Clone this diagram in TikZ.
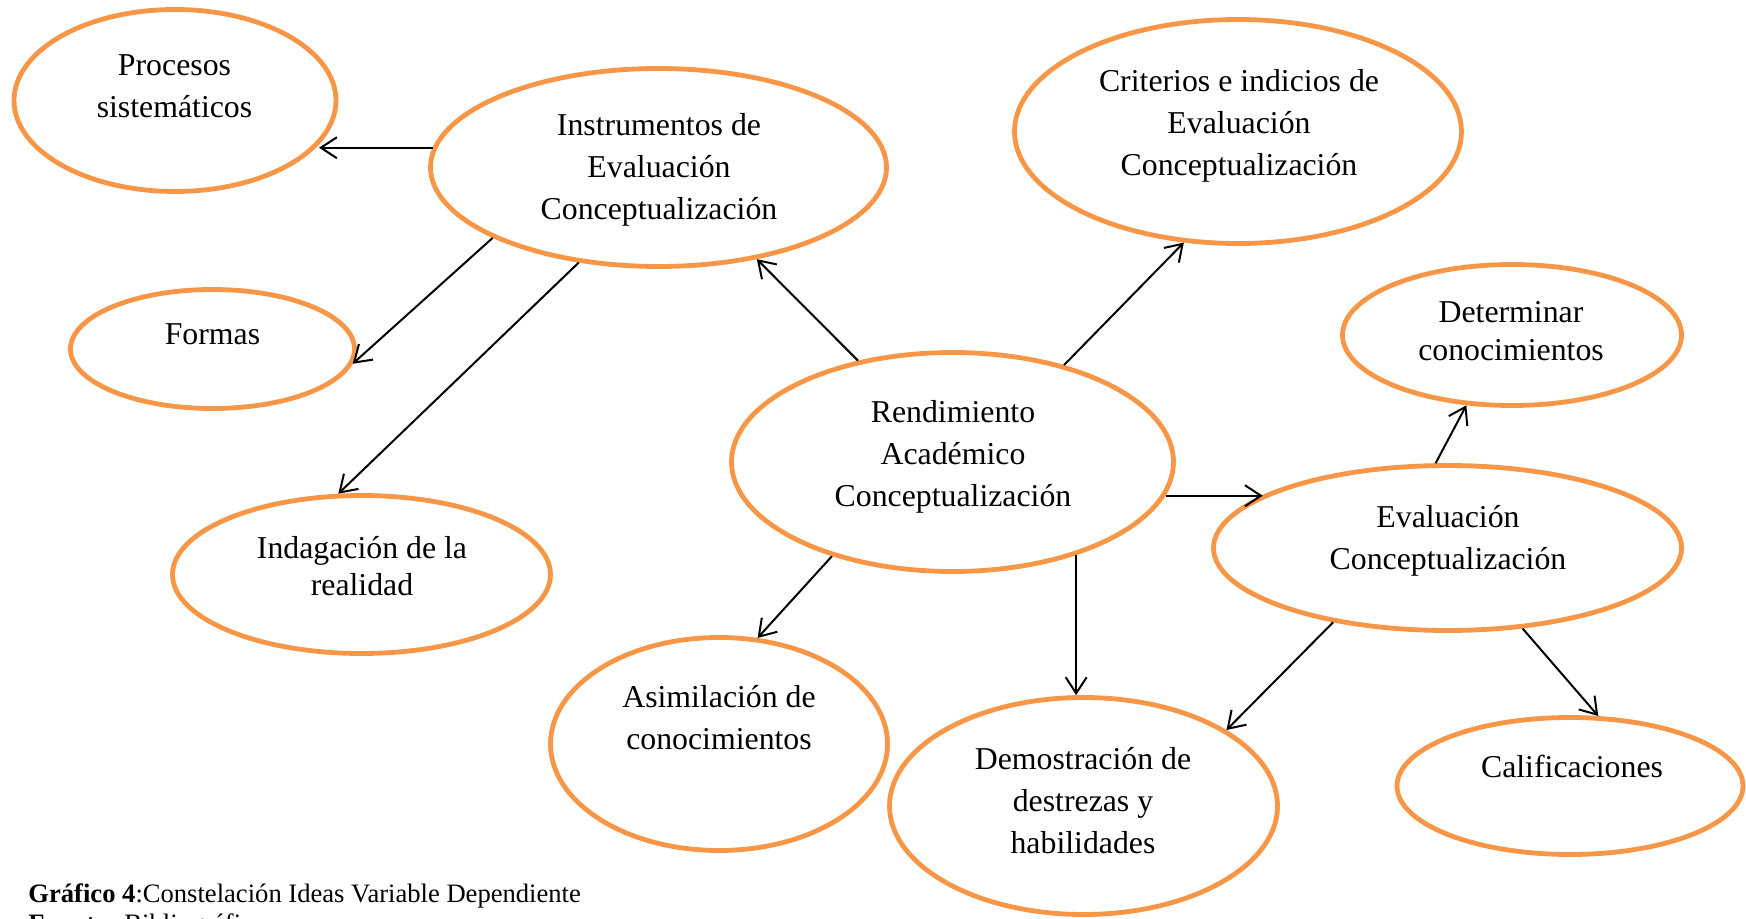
\documentclass[tikz,border=0pt]{standalone}
\usepackage{fontspec}
\setmainfont{Liberation Serif}
\usetikzlibrary{shapes.geometric,arrows.meta}
\definecolor{naranja}{RGB}{247,150,70}

\begin{document}
\begin{tikzpicture}[x=0.5pt,y=-0.5pt,
  idea/.style={ellipse, draw=naranja, line width=2.4pt},
  txt/.style={align=center, inner sep=0pt, font=\fontsize{15.9}{21}\selectfont},
  txtb/.style={txt, font=\fontsize{15.9}{18.8}\selectfont},
  pie/.style={inner sep=0pt, anchor=base west, font=\fontsize{13.3}{15}\selectfont},
  flecha/.style={-{Straight Barb[length=8pt,width=10.5pt]}, line width=1pt}]
  \useasboundingbox (0,0) rectangle (1746,919);

  \node[idea, minimum width=161pt, minimum height=91pt] (proc) at (175,100.5) {};
  \node[idea, minimum width=228pt, minimum height=99pt] (inst) at (658.5,167.5) {};
  \node[idea, minimum width=142pt, minimum height=59.5pt] (form) at (212.5,349) {};
  \node[idea, minimum width=189pt, minimum height=79pt] (inda) at (361.5,574.5) {};
  \node[idea, minimum width=223.5pt, minimum height=112pt] (crit) at (1238,131.5) {};
  \node[idea, minimum width=221pt, minimum height=109.5pt] (rend) at (952.5,462) {};
  \node[idea, minimum width=169.5pt, minimum height=70.5pt] (dete) at (1512,335) {};
  \node[idea, minimum width=234pt, minimum height=82.5pt] (eval) at (1447.5,548) {};
  \node[idea, minimum width=168.5pt, minimum height=106.5pt] (asim) at (719,744) {};
  \node[idea, minimum width=194pt, minimum height=108.5pt] (demo) at (1083.5,806) {};
  \node[idea, minimum width=173pt, minimum height=68.5pt] (cali) at (1570,786) {};

  \node[txt] (procT) at (174.5,86) {Procesos\\sistemáticos};
  \node[txt] (instT) at (659,170) {Instrumentos de\\Evaluación\\Conceptualización};
  \node[txt] (formT) at (212.5,334) {Formas};
  \node[txtb] (indaT) at (362,566) {Indagación de la\\realidad};
  \node[txt] (critT) at (1239,126) {Criterios e indicios de\\Evaluación\\Conceptualización};
  \node[txt] (rendT) at (953,457) {Rendimiento\\Académico\\Conceptualización};
  \node[txtb] (deteT) at (1511,331) {Determinar\\conocimientos};
  \node[txt] (evalT) at (1448,541) {Evaluación\\Conceptualización};
  \node[txt] (asimT) at (719,718) {Asimilación de\\conocimientos};
  \node[txt] (demoT) at (1083,801) {Demostración de\\destrezas y\\habilidades};
  \node[txt] (caliT) at (1572,766) {Calificaciones};

  \draw[flecha] (inst.175) -- (inst.175 -| proc.-17);
  \draw[flecha] (inst.203) -- (form.-6);
  \draw[flecha] (inst.230) -- (inda.106);
  \draw[flecha] (rend.133) -- (inst.-43);
  \draw[flecha] (rend.41) -- (crit.244);
  \draw[flecha] (rend.-9) -- (rend.-9 -| eval.164);
  \draw[flecha] (rend.218) -- (asim.70);
  \draw[flecha] (rend.-37) -- (rend.-37 |- demo.north);
  \draw[flecha] (eval.98) -- (dete.237);
  \draw[flecha] (eval.213) -- (demo.28);
  \draw[flecha] (eval.-47) -- (cali.68);

  \node[pie] (graf) at (28,902) {\textbf{Gráfico 4}:Constelación Ideas Variable Dependiente};
  \node[pie] (fuen) at (28,932) {\textbf{Fuente:} Bibliográfica};
\end{tikzpicture}
\end{document}
